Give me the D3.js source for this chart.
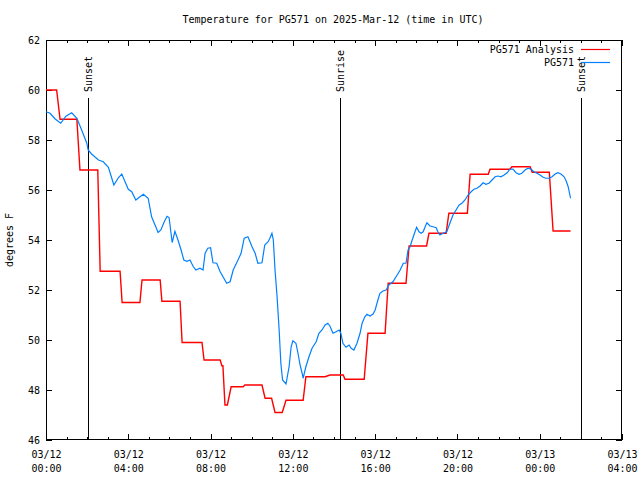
<!DOCTYPE html>
<html><head><meta charset="utf-8">
<script src="https://cdn.jsdelivr.net/npm/d3@7"></script>
<style>body{margin:0;background:#fff}svg{display:block}text{font-family:"DejaVu Sans Mono",monospace;font-size:10px;fill:#000}</style>
</head><body><svg id="c" width="640" height="480"></svg>
<script>
// times in minutes after 2025-03-12 00:00 UTC
const analysisTimes = [0,31,41,90,99,151,158,216,222,274,280,333,338,391,397,455,461,508,513,516,522,529,540,575,580,630,639,658,668,689,700,750,758,814,828,867,872,928,939,989,998,1050,1059,1110,1117,1167,1175,1229,1237,1290,1295,1353,1359,1412,1418,1468,1479,1530];
const analysisValues = [60.0,60.0,58.83,58.83,56.8,56.8,52.75,52.75,51.5,51.5,52.4,52.4,51.55,51.55,49.9,49.9,49.2,49.2,48.97,48.97,47.4,47.4,48.13,48.13,48.2,48.2,47.67,47.67,47.1,47.1,47.59,47.59,48.53,48.53,48.6,48.6,48.43,48.43,50.27,50.27,52.27,52.27,53.76,53.76,54.27,54.27,55.07,55.07,56.63,56.63,56.83,56.83,56.93,56.93,56.71,56.71,54.36,54.36];
const obsTimes = [0,12,26,43,58,75,90,104,119,123,133,153,167,182,198,211,221,240,250,262,274,284,298,308,318,327,335,344,353,359,368,376,385,394,402,411,420,429,437,449,458,464,472,480,487,498,508,527,537,546,560,569,578,589,601,610,618,630,638,648,653,659,663,668,674,680,685,690,700,709,715,720,729,735,741,747,750,758,767,776,788,796,805,814,822,828,837,846,855,860,866,875,884,890,898,907,916,922,930,936,945,954,960,968,974,983,992,1000,1012,1021,1033,1042,1050,1056,1062,1068,1073,1081,1088,1094,1100,1108,1111,1120,1129,1138,1143,1149,1158,1169,1178,1187,1196,1205,1213,1222,1231,1240,1248,1257,1266,1275,1283,1292,1301,1310,1318,1327,1336,1345,1353,1362,1371,1380,1388,1397,1406,1415,1423,1432,1441,1450,1458,1467,1476,1485,1493,1502,1511,1517,1523,1528,1530];
const obsValues = [59.13,59.07,58.85,58.67,58.95,59.09,58.87,58.4,57.87,57.6,57.44,57.2,57.13,56.91,56.2,56.49,56.64,56.03,55.93,55.6,55.73,55.83,55.67,54.93,54.6,54.3,54.4,54.7,54.95,54.9,53.9,54.35,54.0,53.6,53.2,53.15,53.2,52.95,52.8,52.87,52.8,53.47,53.67,53.69,53.09,53.07,52.73,52.27,52.33,52.8,53.2,53.47,54.07,54.13,53.73,53.47,53.07,53.09,53.8,53.93,54.07,54.27,54.0,52.8,51.73,50.4,49.07,48.4,48.24,48.93,49.73,49.97,49.87,49.47,49.0,48.67,48.47,48.93,49.33,49.67,49.93,50.27,50.4,50.6,50.67,50.56,50.27,50.33,50.4,50.27,49.87,49.71,49.8,49.67,49.6,49.87,50.27,50.67,50.93,51.03,50.96,51.04,51.2,51.6,51.87,51.96,52.0,52.2,52.33,52.53,52.8,53.07,53.07,53.6,53.73,54.0,54.2,54.51,54.33,54.27,54.33,54.6,54.69,54.56,54.53,54.49,54.33,54.2,54.27,54.33,54.67,55.0,55.2,55.4,55.47,55.6,55.8,55.93,56.03,56.07,56.16,56.29,56.23,56.27,56.4,56.53,56.56,56.53,56.6,56.69,56.83,56.84,56.69,56.63,56.67,56.8,56.87,56.83,56.73,56.67,56.6,56.51,56.47,56.47,56.53,56.64,56.69,56.64,56.53,56.37,56.13,55.8,55.67];
const sunEvents = [{t:122,label:"Sunset"},{t:857,label:"Sunrise"},{t:1560,label:"Sunset"}];
const xTickValues = [0,240,480,720,960,1200,1440,1680];
const xTickLabels = [["03/12","00:00"],["03/12","04:00"],["03/12","08:00"],["03/12","12:00"],["03/12","16:00"],["03/12","20:00"],["03/13","00:00"],["03/13","04:00"]];
const yTickValues = [46,48,50,52,54,56,58,60,62];
const seriesNames = ["PG571 Analysis","PG571"];
const seriesColors = ["#ff0000","#0080ff"];
const title = "Temperature for PG571 on 2025-Mar-12 (time in UTC)";

const L=46,R=622,T=40,B=440;
const svg=d3.select("#c");
const x=d3.scaleLinear().domain([0,1680]).range([L,R]);
const y=d3.scaleLinear().domain([46,62]).range([B,T]);
const minorX=d3.range(0,1681,60);

// axes (ticks pointing inward, gnuplot style)
const gB=svg.append("g").attr("transform",`translate(0,${B})`)
  .call(d3.axisBottom(x).tickValues(minorX).tickSize(-3).tickFormat(""));
const gBM=svg.append("g").attr("transform",`translate(0,${B})`)
  .call(d3.axisBottom(x).tickValues(xTickValues).tickSize(-6).tickPadding(12).tickFormat((d,i)=>""));
gBM.selectAll(".tick").each(function(d,i){
  const t=d3.select(this).append("text").attr("fill","#000").attr("text-anchor","middle");
  t.append("tspan").attr("x",0).attr("y",18).text(xTickLabels[i][0]);
  t.append("tspan").attr("x",0).attr("y",32).text(xTickLabels[i][1]);
});
svg.append("g").attr("transform",`translate(0,${T})`)
  .call(d3.axisTop(x).tickValues(minorX).tickSize(-3).tickFormat(""));
svg.append("g").attr("transform",`translate(0,${T})`)
  .call(d3.axisTop(x).tickValues(xTickValues).tickSize(-6).tickFormat(""));
const gL=svg.append("g").attr("transform",`translate(${L},0)`)
  .call(d3.axisLeft(y).tickValues(yTickValues).tickSize(-6).tickPadding(6).tickFormat(d3.format("d")));
svg.append("g").attr("transform",`translate(${R},0)`)
  .call(d3.axisRight(y).tickValues(yTickValues).tickSize(-6).tickFormat(""));
svg.selectAll(".domain").remove();
svg.selectAll(".tick line").attr("stroke","#000").attr("shape-rendering","crispEdges");
svg.selectAll(".tick text").style("font-family","'DejaVu Sans Mono',monospace").style("font-size","10px");
gL.selectAll(".tick text").attr("x",-6);
// frame
svg.append("rect").attr("x",L+0.5).attr("y",T+0.5).attr("width",R-L-1).attr("height",B-T-1)
  .attr("fill","none").attr("stroke","#000").attr("shape-rendering","crispEdges");

// sun lines
sunEvents.forEach(s=>{
  const px=Math.round(x(s.t))+0.5;
  svg.append("line").attr("x1",px).attr("x2",px).attr("y1",98).attr("y2",B)
    .attr("stroke","#000").attr("shape-rendering","crispEdges");
  svg.append("text").attr("transform",`translate(${px},92) rotate(-90)`).attr("dy","0.35em").text(s.label);
});

// series
const line=d3.line().x(d=>x(d[0])).y(d=>y(d[1]));
const aData=analysisTimes.map((t,i)=>[t,analysisValues[i]]);
const oData=obsTimes.map((t,i)=>[t,obsValues[i]]);
svg.append("path").datum(aData).attr("d",line).attr("fill","none").attr("stroke",seriesColors[0]).attr("stroke-width",1.4);
svg.append("path").datum(oData).attr("d",line).attr("fill","none").attr("stroke",seriesColors[1]).attr("stroke-width",1.2);

// legend
[0,1].forEach(i=>{
  const ly=49+13*i;
  svg.append("text").attr("x",574).attr("y",ly).attr("dy","0.35em").attr("text-anchor","end").text(seriesNames[i]);
  svg.append("line").attr("x1",581).attr("x2",610).attr("y1",ly+0.5).attr("y2",ly+0.5).attr("stroke",seriesColors[i]).attr("stroke-width",1.2);
});

// title & y label
svg.append("text").attr("x",333).attr("y",23).attr("text-anchor","middle").text(title);
svg.append("text").attr("transform","translate(13,240) rotate(-90)").attr("text-anchor","middle").text("degrees F");
</script></body></html>
